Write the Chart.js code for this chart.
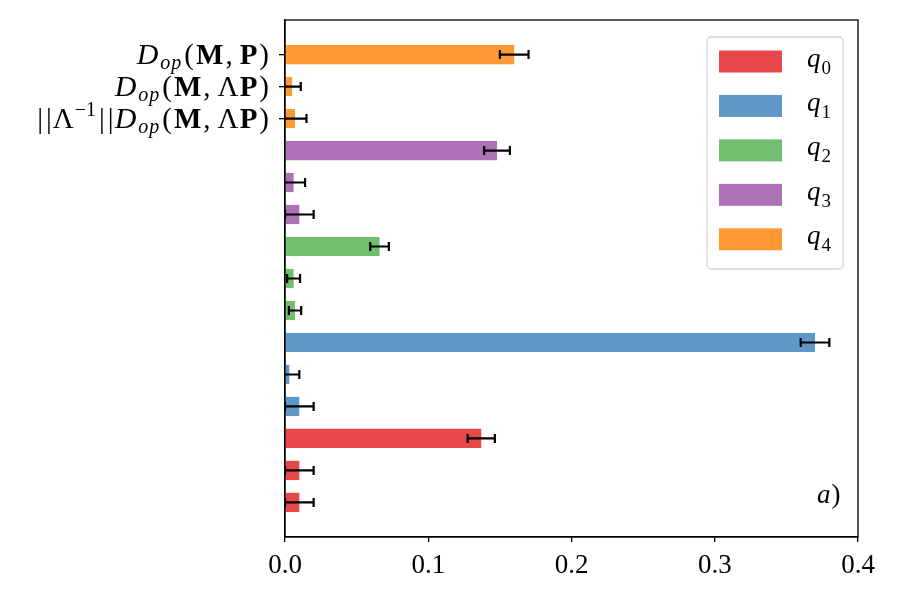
<!DOCTYPE html>
<html><head><meta charset="utf-8">
<script src="https://cdn.jsdelivr.net/npm/chart.js@4/dist/chart.umd.min.js"></script>
<style>html,body{margin:0;padding:0;background:#fff}#wrap{width:900px;height:600px;position:relative}</style>
</head><body><div id="wrap"><canvas id="c"></canvas></div>
<script>
// ---- data ----
const seriesNames = ['q0', 'q1', 'q2', 'q3', 'q4'];
// metrics within each group, bottom -> top
const metricNames = ['||Λ^-1|| D_op(M, ΛP)', 'D_op(M, ΛP)', 'D_op(M, P)'];
const q0Values = [0.010, 0.010, 0.137];
const q0Errors = [0.010, 0.010, 0.0095];
const q1Values = [0.010, 0.003, 0.370];
const q1Errors = [0.010, 0.007, 0.010];
const q2Values = [0.007, 0.006, 0.066];
const q2Errors = [0.0043, 0.0045, 0.0065];
const q3Values = [0.010, 0.006, 0.148];
const q3Errors = [0.010, 0.008, 0.009];
const q4Values = [0.007, 0.005, 0.160];
const q4Errors = [0.008, 0.006, 0.010];
const xTickValues = [0.0, 0.1, 0.2, 0.3, 0.4];

const allValues = [q0Values, q1Values, q2Values, q3Values, q4Values];
const allErrors = [q0Errors, q1Errors, q2Errors, q3Errors, q4Errors];
const colors = ['#e9484a', '#5f98c6', '#71bf6e', '#ad71b5', '#ff9933'];

const nMetrics = metricNames.length;
const datasets = seriesNames.map((name, g) => ({
  label: name,
  data: allValues[g].map((v, j) => ({ x: v, y: g * nMetrics + j })),
  errors: allErrors[g],
  backgroundColor: colors[g],
  borderWidth: 0,
  barPercentage: 0.6,
  categoryPercentage: 1.0,
  grouped: false
}));
const labelPositions = metricNames.map((_, j) => (seriesNames.length - 1) * nMetrics + j);

// ---- rich text helpers ----
const FAM = '"Liberation Serif", "DejaVu Serif", serif';
const R = '27px ' + FAM, I = 'italic 27px ' + FAM;
const SR = '19px ' + FAM;
const LR = '29px ' + FAM, LI = 'italic 30px ' + FAM, LB = 'bold 29px ' + FAM;
const LSI = 'italic 20px ' + FAM, LSR = '20px ' + FAM;
function drawRich(ctx, segs, x, y, align) {
  let w = 0;
  segs.forEach(s => { ctx.font = s[1]; s.w = ctx.measureText(s[0]).width + (s[3] || 0); w += s.w; });
  let cx = align === 'right' ? x - w : x;
  segs.forEach(s => { ctx.font = s[1]; ctx.fillText(s[0], cx, y + (s[2] || 0)); cx += s.w; });
}
const Dop = [['D', LI, 0, 2], ['o', LSI, 5, 1], ['p', LSI, 5, 3]];
const richLabels = [
  [['|', LR, 0, 3], ['|', LR, 0, 1], ['Λ', LR, 0, 1], ['−1', LSR, -12, 3], ['|', LR, 0, 3], ['|', LR, 0, 1]].concat(Dop, [['(', LR, 0, 2], ['M', LB, 0, 2], [',', LR, 0, 7], ['Λ', LR, 0, 1], ['P', LB, 0, 2], [')', LR]]),
  Dop.concat([['(', LR, 0, 2], ['M', LB, 0, 2], [',', LR, 0, 7], ['Λ', LR, 0, 1], ['P', LB, 0, 2], [')', LR]]),
  Dop.concat([['(', LR, 0, 2], ['M', LB, 0, 2], [',', LR, 0, 7], ['P', LB, 0, 2], [')', LR]])
];

const decor = {
  id: 'decor',
  afterDatasetsDraw(chart) {
    const ctx = chart.ctx, xs = chart.scales.x, ys = chart.scales.y, a = chart.chartArea;
    ctx.save();
    // error bars (clipped to the plot area)
    ctx.save();
    ctx.beginPath(); ctx.rect(a.left, a.top, a.right - a.left, a.bottom - a.top); ctx.clip();
    ctx.strokeStyle = '#000'; ctx.lineWidth = 2.2;
    chart.data.datasets.forEach((ds, di) => {
      const meta = chart.getDatasetMeta(di);
      ds.data.forEach((p, i) => {
        const e = ds.errors[i];
        const y = meta.data[i].y;
        const x1 = xs.getPixelForValue(p.x - e), x2 = xs.getPixelForValue(p.x + e);
        ctx.beginPath();
        ctx.moveTo(x1, y); ctx.lineTo(x2, y);
        ctx.moveTo(x1, y - 4.5); ctx.lineTo(x1, y + 4.5);
        ctx.moveTo(x2, y - 4.5); ctx.lineTo(x2, y + 4.5);
        ctx.stroke();
      });
    });
    ctx.restore();
    // frame
    ctx.lineWidth = 1.3; ctx.strokeStyle = '#000';
    ctx.strokeRect(a.left, a.top, a.right - a.left, a.bottom - a.top);
    // y labels
    ctx.fillStyle = '#000'; ctx.textBaseline = 'alphabetic'; ctx.textAlign = 'left';
    labelPositions.forEach((pos, j) => {
      drawRich(ctx, richLabels[j].map(s => s.slice()), a.left - 16, ys.getPixelForValue(pos) + 9, 'right');
    });
    // legend
    const lx = a.right - 151, ly = a.top + 17, lw = 136, lh = 232;
    ctx.fillStyle = 'rgba(255,255,255,0.8)'; ctx.strokeStyle = '#d3d3d3'; ctx.lineWidth = 1.3;
    ctx.beginPath(); ctx.roundRect(lx, ly, lw, lh, 4); ctx.fill(); ctx.stroke();
    seriesNames.forEach((name, g) => {
      const cy = ly + 24.5 + g * 44.45;
      ctx.fillStyle = colors[g];
      ctx.fillRect(lx + 12, cy - 11, 63, 22);
      ctx.fillStyle = '#000';
      drawRich(ctx, [['q', I, 0, 1], [name.slice(1), SR, 7]], lx + 100, cy + 5, 'left');
    });
    // panel tag
    drawRich(ctx, [['a', I, 0, 1], [')', R]], a.right - 41, a.bottom - 34, 'left');
    ctx.restore();
  }
};

new Chart(document.getElementById('c'), {
  type: 'bar',
  data: { datasets },
  options: {
    indexAxis: 'y',
    responsive: true,
    maintainAspectRatio: false,
    animation: false,
    layout: { padding: { top: 20, right: 42, left: 0, bottom: 0 } },
    plugins: { legend: { display: false }, tooltip: { enabled: false } },
    scales: {
      x: {
        type: 'linear', min: 0, max: 0.4,
        afterBuildTicks: s => { s.ticks = xTickValues.map(v => ({ value: v })); },
        afterFit: s => { s.height = 63; },
        grid: { drawOnChartArea: false, drawTicks: true, tickLength: 5, color: '#000', lineWidth: 1.3 },
        border: { display: true, color: '#000', width: 1.3 },
        ticks: { color: '#000', font: { family: 'Liberation Serif', size: 27 }, padding: 8, maxRotation: 0,
          callback: v => Number(v).toFixed(1) }
      },
      y: {
        type: 'linear', min: -1.08, max: 15.08, offset: false,
        afterBuildTicks: s => { s.ticks = labelPositions.map(v => ({ value: v })); },
        afterFit: s => { s.width = 285; },
        grid: { drawOnChartArea: false, drawTicks: true, tickLength: 6, color: '#000', lineWidth: 1.3, offset: false },
        border: { display: true, color: '#000', width: 1.3 },
        ticks: { color: '#000', callback: () => '' }
      }
    }
  },
  plugins: [decor]
});
</script>
</body></html>
